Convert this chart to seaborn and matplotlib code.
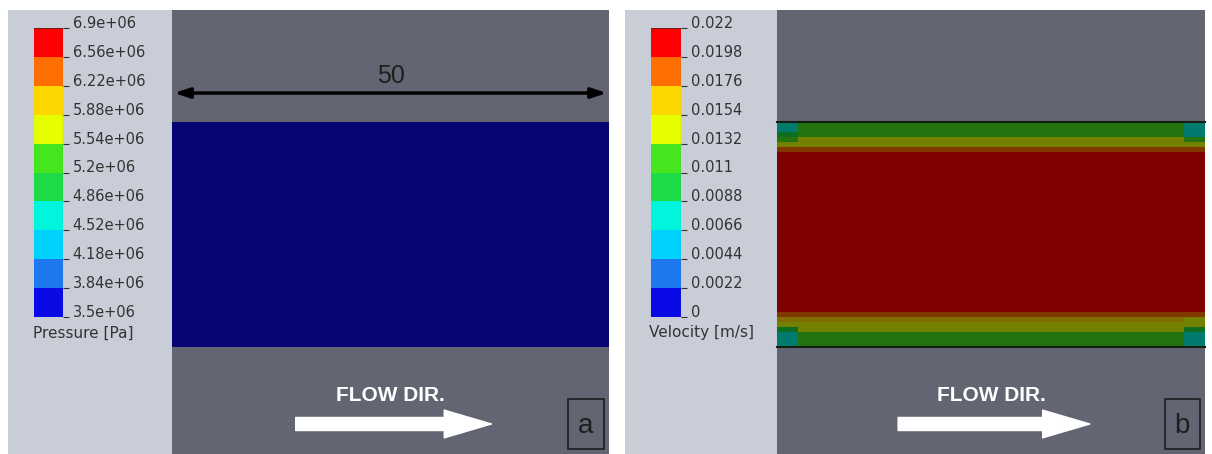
import numpy as np
import matplotlib
matplotlib.use("Agg")
import matplotlib.pyplot as plt
import matplotlib as mpl
from matplotlib.colors import ListedColormap, BoundaryNorm, to_rgb
from matplotlib.patches import Rectangle
import seaborn as sns

# ---------------- data ----------------
pressure_levels = [3.5e6, 3.84e6, 4.18e6, 4.52e6, 4.86e6, 5.2e6,
                   5.54e6, 5.88e6, 6.22e6, 6.56e6, 6.9e6]
pressure_ticklabels = ["3.5e+06", "3.84e+06", "4.18e+06", "4.52e+06", "4.86e+06",
                       "5.2e+06", "5.54e+06", "5.88e+06", "6.22e+06", "6.56e+06", "6.9e+06"]
velocity_levels = [0, 0.0022, 0.0044, 0.0066, 0.0088, 0.011,
                   0.0132, 0.0154, 0.0176, 0.0198, 0.022]
velocity_ticklabels = ["0", "0.0022", "0.0044", "0.0066", "0.0088", "0.011",
                       "0.0132", "0.0154", "0.0176", "0.0198", "0.022"]
pressure_label = "Pressure [Pa]"
velocity_label = "Velocity [m/s]"
panel_letters = ["a", "b"]
flow_text = "FLOW DIR."
channel_length_mm = 50

# pressure along the channel (all inside the lowest band)
pressure_along_channel = [3.56e6, 3.55e6, 3.55e6, 3.54e6, 3.53e6, 3.53e6, 3.52e6, 3.51e6]

# velocity across the channel height (top wall -> bottom wall)
velocity_core_mid = [0.0205, 0.0207, 0.0209, 0.0210, 0.0211, 0.0212, 0.0213, 0.0214,
                     0.0214, 0.0215, 0.0215, 0.0216, 0.0216, 0.0216, 0.0216, 0.0216,
                     0.0216, 0.0216, 0.0216, 0.0216, 0.0215, 0.0215, 0.0214, 0.0214,
                     0.0213, 0.0212, 0.0211, 0.0210, 0.0209, 0.0208, 0.0206, 0.0204]
velocity_core_top = [0.0120, 0.0121, 0.0124, 0.0140, 0.0146, 0.0185]
velocity_core_bottom = [0.0190, 0.0162, 0.0146, 0.0141, 0.0126, 0.0121, 0.0118]
velocity_inlet_top = [0.0075, 0.0078, 0.0100, 0.0128, 0.0142, 0.0180]
velocity_inlet_bottom = [0.0185, 0.0158, 0.0140, 0.0105, 0.0080, 0.0076, 0.0074]
velocity_outlet_top = [0.0072, 0.0076, 0.0084, 0.0112, 0.0140, 0.0178]
velocity_outlet_bottom = [0.0182, 0.0150, 0.0132, 0.0098, 0.0082, 0.0076, 0.0072]
column_sections = ["inlet"] * 2 + ["core"] * 36 + ["outlet"] * 2

# ---------------- styling ----------------
level_colors = ["#0a0ae6", "#1e78f0", "#00d2ff", "#00f5dc", "#1edc46",
                "#46e61e", "#e6ff00", "#ffd700", "#ff6e00", "#ff0000"]
field_dim = 0.5
field_colors = [tuple(c * field_dim for c in to_rgb(h)) for h in level_colors]
bright_cmap = ListedColormap(level_colors)
field_cmap = ListedColormap(field_colors)

LIGHT = "#c9cdd7"
DARK = "#636672"
TXT = "#333333"

W, H = 1212, 454
fig = plt.figure(figsize=(W / 100, H / 100), dpi=100)
fig.patch.set_facecolor("white")


def px_rect(x0, y0, x1, y1):
    return [x0 / W, 1 - y1 / H, (x1 - x0) / W, (y1 - y0) / H]


def bg(x0, y0, x1, y1, color):
    r = px_rect(x0, y0, x1, y1)
    fig.add_artist(Rectangle((r[0], r[1]), r[2], r[3], transform=fig.transFigure,
                             facecolor=color, edgecolor="none", zorder=0))


def bare(ax):
    ax.set_xticks([])
    ax.set_yticks([])
    for s in ax.spines.values():
        s.set_visible(False)


def colorbar(rect, levels, labels, title, title_xy):
    cax = fig.add_axes(px_rect(*rect))
    norm = BoundaryNorm(levels, len(levels) - 1)
    cb = mpl.colorbar.Colorbar(cax, cmap=bright_cmap, norm=norm, ticks=levels,
                               spacing="uniform", orientation="vertical")
    cb.set_ticklabels(labels)
    cb.outline.set_visible(False)
    cax.tick_params(axis="y", length=4, width=0.8, color=TXT, pad=3,
                    labelsize=10.5, labelcolor=TXT)
    for t in cax.get_yticklabels():
        t.set_verticalalignment("baseline")
    cax.axvline(1, color="#444444", lw=0.8)
    cax.axhline(levels[-1], color="#5a2020", lw=1.2)
    fig.text(title_xy[0] / W, 1 - title_xy[1] / H, title, fontsize=11,
             color=TXT, ha="left", va="center")
    return cax


def domain(rect, letter, dimension=False):
    ax = fig.add_axes(px_rect(*rect))
    ax.set_facecolor(DARK)
    bare(ax)
    ax.set_xlim(0, channel_length_mm)
    ax.set_ylim(0, 1)
    if dimension:
        ax.annotate("", xy=(channel_length_mm * 0.995, 0.813), xytext=(channel_length_mm * 0.005, 0.813),
                    arrowprops=dict(arrowstyle="<|-|>,head_length=0.9,head_width=0.3",
                                    color="black", lw=2.5, shrinkA=0, shrinkB=0))
        ax.text(channel_length_mm / 2, 0.852, f"{channel_length_mm}", fontsize=18,
                color="#1e1e1e", ha="center", va="center", family="Liberation Sans")
    ax.text(0.50, 0.132, flow_text, transform=ax.transAxes, fontsize=15,
            fontweight="bold", color="white", ha="center", va="center",
            family="Liberation Sans")
    ax.annotate("", xy=(0.731, 0.0676), xytext=(0.283, 0.0676),
                xycoords="axes fraction", textcoords="axes fraction",
                arrowprops=dict(arrowstyle="simple,head_length=1.7,head_width=1.0,tail_width=0.47",
                                color="white", mutation_scale=20, shrinkA=0, shrinkB=0))
    ax.add_patch(Rectangle((0.906, 0.011), 0.083, 0.112, transform=ax.transAxes,
                           facecolor="none", edgecolor="#1e1e1e", lw=1.2))
    ax.text(0.947, 0.062, letter, transform=ax.transAxes, fontsize=20,
            color="#1e1e1e", ha="center", va="center", family="Liberation Sans")
    return ax


# panel backgrounds
bg(8, 10, 172, 454, LIGHT)
bg(625, 10, 777, 454, LIGHT)

# ---------- panel a: pressure ----------
domain((172, 10, 609, 454), panel_letters[0], dimension=True)
axp = fig.add_axes(px_rect(172, 122, 609, 347))
p_grid = np.array([pressure_along_channel])
sns.heatmap(p_grid, ax=axp, cmap=field_cmap,
            norm=BoundaryNorm(pressure_levels, len(pressure_levels) - 1),
            cbar=False, xticklabels=False, yticklabels=False)
bare(axp)
colorbar((34, 28, 63, 317), pressure_levels, pressure_ticklabels, pressure_label, (33, 333))

# ---------- panel b: velocity ----------
domain((777, 10, 1205, 454), panel_letters[1])
axv = fig.add_axes(px_rect(777, 122, 1205, 347))
profiles = {
    "inlet": velocity_inlet_top + velocity_core_mid + velocity_inlet_bottom,
    "core": velocity_core_top + velocity_core_mid + velocity_core_bottom,
    "outlet": velocity_outlet_top + velocity_core_mid + velocity_outlet_bottom,
}
v_grid = np.array([profiles[s] for s in column_sections]).T
sns.heatmap(v_grid, ax=axv, cmap=field_cmap,
            norm=BoundaryNorm(velocity_levels, len(velocity_levels) - 1),
            cbar=False, xticklabels=False, yticklabels=False)
bare(axv)
axv.axhline(0, color="#152015", lw=1.5, clip_on=False)
axv.axhline(v_grid.shape[0], color="#152015", lw=1.5, clip_on=False)
colorbar((651, 28, 681, 317), velocity_levels, velocity_ticklabels, velocity_label, (649, 333))

fig.savefig("out.png", dpi=100, facecolor="white")
